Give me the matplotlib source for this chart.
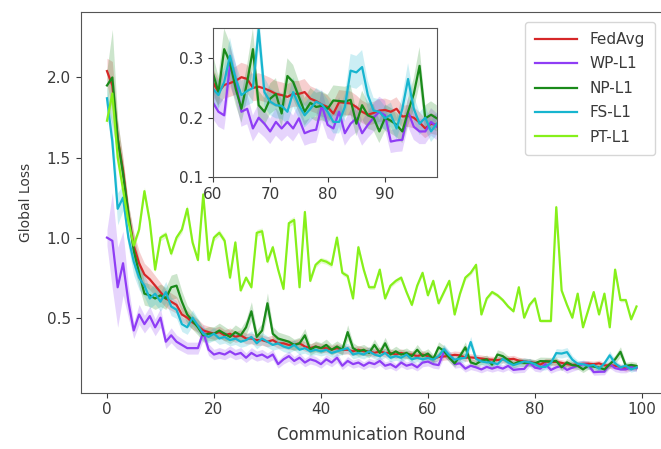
import numpy as np
import matplotlib
matplotlib.use("Agg")
import matplotlib.pyplot as plt

rounds = np.arange(100)

fedavg = [2.04, 1.95, 1.62, 1.42, 1.15, 0.95, 0.84, 0.77, 0.74, 0.70,
          0.66, 0.62, 0.60, 0.58, 0.52, 0.50, 0.47, 0.45, 0.42, 0.41,
          0.40, 0.41, 0.39, 0.40, 0.38, 0.39, 0.37, 0.37, 0.36, 0.36,
          0.35, 0.36, 0.34, 0.34, 0.33, 0.33, 0.34, 0.32, 0.31, 0.32,
          0.31, 0.31, 0.30, 0.31, 0.30, 0.30, 0.29, 0.30, 0.29, 0.29,
          0.28, 0.29, 0.28, 0.28, 0.27, 0.28, 0.27, 0.27, 0.26, 0.27,
          0.260, 0.243, 0.255, 0.258, 0.262, 0.268, 0.265, 0.250, 0.252, 0.249,
          0.245, 0.240, 0.238, 0.235, 0.240, 0.240, 0.243, 0.232, 0.228, 0.222,
          0.218, 0.207, 0.226, 0.225, 0.224, 0.218, 0.210, 0.205, 0.208, 0.212,
          0.213, 0.210, 0.215, 0.202, 0.203, 0.200, 0.192, 0.182, 0.190, 0.188]

wp_l1 = [1.00, 0.98, 0.69, 0.84, 0.60, 0.42, 0.52, 0.46, 0.51, 0.44,
         0.50, 0.35, 0.39, 0.35, 0.33, 0.31, 0.31, 0.31, 0.41, 0.30,
         0.27, 0.28, 0.27, 0.29, 0.27, 0.28, 0.25, 0.28, 0.26, 0.27,
         0.25, 0.27, 0.21, 0.24, 0.26, 0.23, 0.25, 0.22, 0.24, 0.23,
         0.21, 0.24, 0.22, 0.25, 0.20, 0.23, 0.21, 0.22, 0.20, 0.22,
         0.21, 0.23, 0.20, 0.21, 0.19, 0.22, 0.20, 0.21, 0.19, 0.22,
         0.226, 0.210, 0.204, 0.287, 0.260, 0.210, 0.215, 0.182, 0.200, 0.190,
         0.177, 0.193, 0.182, 0.193, 0.182, 0.199, 0.174, 0.178, 0.180, 0.221,
         0.188, 0.182, 0.210, 0.174, 0.190, 0.199, 0.174, 0.188, 0.200, 0.210,
         0.204, 0.160, 0.162, 0.163, 0.210, 0.185, 0.177, 0.177, 0.193, 0.185]

np_l1 = [1.95, 2.00, 1.62, 1.40, 1.15, 0.92, 0.78, 0.65, 0.64, 0.62,
         0.64, 0.62, 0.69, 0.70, 0.60, 0.52, 0.48, 0.44, 0.39, 0.40,
         0.40, 0.42, 0.40, 0.38, 0.41, 0.39, 0.44, 0.54, 0.38, 0.42,
         0.59, 0.40, 0.37, 0.36, 0.35, 0.33, 0.34, 0.39, 0.30, 0.32,
         0.31, 0.33, 0.30, 0.32, 0.30, 0.41, 0.31, 0.29, 0.30, 0.28,
         0.33, 0.28, 0.34, 0.27, 0.29, 0.27, 0.28, 0.26, 0.30, 0.26,
         0.276, 0.243, 0.315, 0.293, 0.249, 0.215, 0.260, 0.315, 0.221, 0.210,
         0.232, 0.240, 0.207, 0.270, 0.260, 0.235, 0.210, 0.225, 0.218, 0.220,
         0.215, 0.229, 0.228, 0.227, 0.230, 0.190, 0.221, 0.204, 0.200, 0.177,
         0.200, 0.195, 0.188, 0.177, 0.210, 0.240, 0.287, 0.199, 0.205, 0.199]

fs_l1 = [1.87, 1.60, 1.18, 1.25, 1.00, 0.85, 0.75, 0.70, 0.62, 0.65,
         0.60, 0.66, 0.57, 0.55, 0.46, 0.44, 0.50, 0.45, 0.40, 0.38,
         0.40, 0.37, 0.38, 0.36, 0.37, 0.35, 0.36, 0.38, 0.34, 0.37,
         0.35, 0.33, 0.34, 0.32, 0.31, 0.33, 0.30, 0.31, 0.29, 0.30,
         0.29, 0.30, 0.28, 0.29, 0.30, 0.31, 0.27, 0.28, 0.27, 0.29,
         0.27, 0.26, 0.28, 0.25, 0.26, 0.25, 0.27, 0.24, 0.25, 0.24,
         0.249, 0.238, 0.260, 0.304, 0.265, 0.238, 0.245, 0.250, 0.348, 0.243,
         0.227, 0.221, 0.220, 0.210, 0.243, 0.221, 0.204, 0.215, 0.227, 0.222,
         0.210, 0.193, 0.193, 0.218, 0.279, 0.276, 0.285, 0.238, 0.212, 0.210,
         0.199, 0.205, 0.182, 0.215, 0.265, 0.215, 0.190, 0.200, 0.177, 0.190]

pt_l1 = [1.73, 1.90, 1.50, 1.30, 1.10, 0.95, 1.05, 1.29, 1.10, 0.80,
         1.00, 1.02, 0.90, 1.00, 1.05, 1.18, 0.97, 0.86, 1.27, 0.86,
         1.00, 1.03, 0.98, 0.75, 0.97, 0.67, 0.75, 0.69, 1.03, 1.04,
         0.85, 0.94, 0.80, 0.68, 1.09, 1.11, 0.69, 1.16, 0.73, 0.83,
         0.86, 0.85, 0.83, 1.00, 0.78, 0.76, 0.62, 0.94, 0.80, 0.69,
         0.69, 0.80, 0.62, 0.70, 0.73, 0.75, 0.66, 0.58, 0.70, 0.78,
         0.64, 0.73, 0.59, 0.66, 0.73, 0.52, 0.65, 0.75, 0.78, 0.83,
         0.52, 0.62, 0.66, 0.64, 0.61, 0.57, 0.54, 0.69, 0.50, 0.58,
         0.62, 0.48, 0.48, 0.48, 1.19, 0.67, 0.58, 0.50, 0.65, 0.44,
         0.55, 0.66, 0.52, 0.65, 0.44, 0.80, 0.61, 0.61, 0.49, 0.57]

# spread across runs: explicit widths for the first rounds, relative after
band_early = {
    "FedAvg": [0.08, 0.15, 0.10, 0.08, 0.06],
    "WP-L1": [0.05, 0.30, 0.25, 0.20, 0.10],
    "NP-L1": [0.10, 0.30, 0.12, 0.08, 0.06],
    "FS-L1": [0.08, 0.10, 0.10, 0.08, 0.06],
    "PT-L1": [0.03, 0.04, 0.03, 0.02, 0.02],
}
band_rel = {"FedAvg": 0.09, "WP-L1": 0.12, "NP-L1": 0.11, "FS-L1": 0.10, "PT-L1": 0.02}

labels = ["FedAvg", "WP-L1", "NP-L1", "FS-L1", "PT-L1"]
series = [fedavg, wp_l1, np_l1, fs_l1, pt_l1]
colors = ["#d62728", "#8f3df5", "#1a8a1a", "#17b5cf", "#86f01a"]

text_col = "#3a3a3a"
plt.rcParams.update({"font.size": 11, "text.color": text_col,
                     "axes.labelcolor": text_col, "xtick.color": text_col,
                     "ytick.color": text_col, "axes.edgecolor": "#555555"})


def draw(ax, lw):
    for lab, vals, c in zip(labels, series, colors):
        vals = np.array(vals)
        width = vals * band_rel[lab]
        early = band_early[lab]
        width[:len(early)] = early
        ax.fill_between(rounds, vals - width, vals + width, color=c, alpha=0.22, lw=0)
        ax.plot(rounds, vals, color=c, lw=lw, label=lab)


fig = plt.figure(figsize=(6.61, 4.49), dpi=100)
ax = fig.add_axes([0.1218, 0.1258, 0.8812, 0.8472])
draw(ax, 1.6)
ax.set_xticks([0, 20, 40, 60, 80, 100])
ax.set_yticks([0.5, 1.0, 1.5, 2.0])
ax.set_xlabel("Communication Round", fontsize=12, labelpad=6)
ax.set_ylabel("Global Loss", fontsize=10, labelpad=10)
ax.legend(loc="upper right", fontsize=11, handlelength=2.8, labelspacing=0.62,
          borderpad=0.65, borderaxespad=0, bbox_to_anchor=(0.986, 0.974))

ins = fig.add_axes([0.3218, 0.605, 0.339, 0.332])
draw(ins, 1.6)
ins.set_xlim(60, 99)
ins.set_ylim(0.1, 0.35)
ins.set_xticks([60, 70, 80, 90])
ins.set_yticks([0.1, 0.2, 0.3])

fig.savefig("out.png", dpi=100)
